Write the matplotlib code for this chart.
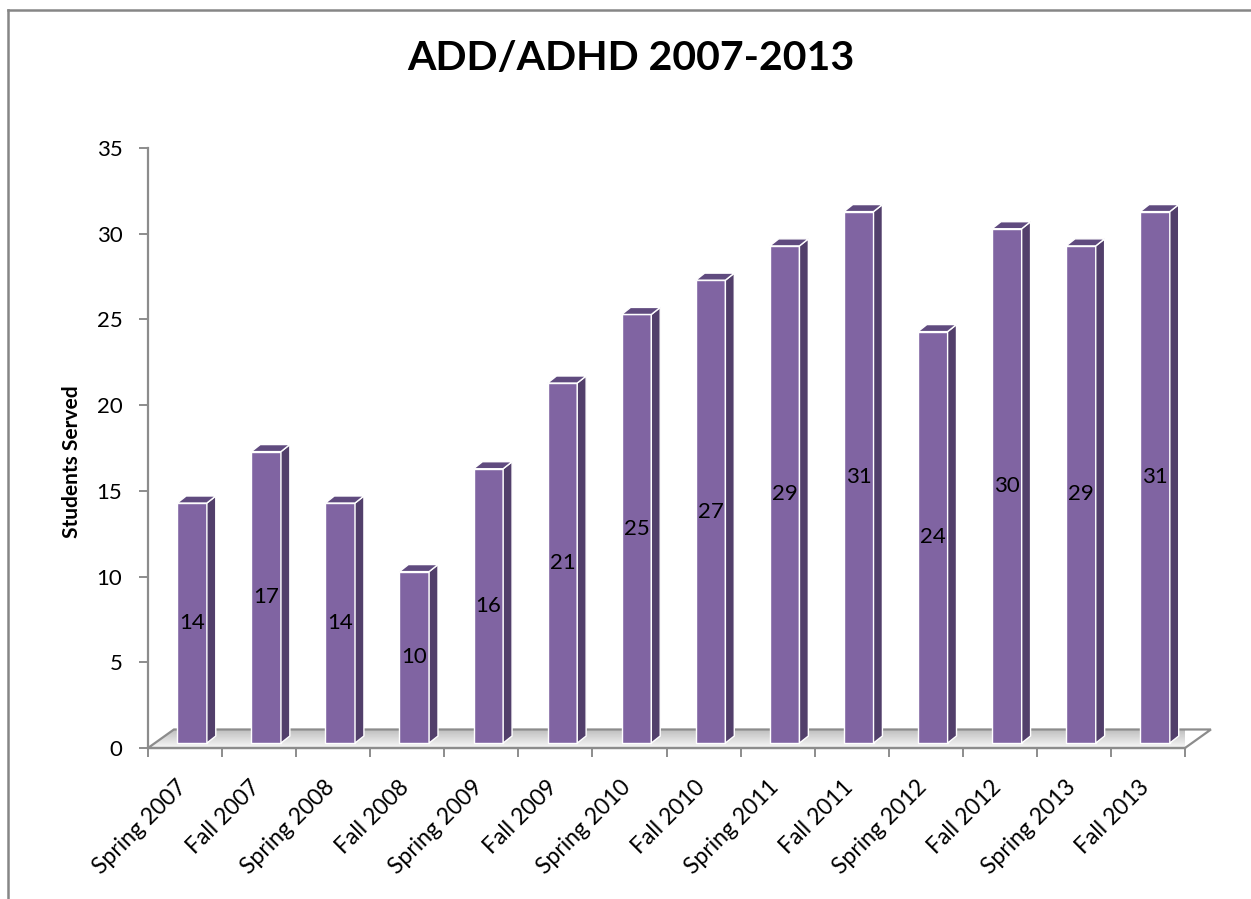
import numpy as np
import matplotlib
matplotlib.use("Agg")
import matplotlib.pyplot as plt
from matplotlib.patches import Polygon
from matplotlib.lines import Line2D

# ---- data ----
categories = ["Spring 2007", "Fall 2007", "Spring 2008", "Fall 2008", "Spring 2009",
              "Fall 2009", "Spring 2010", "Fall 2010", "Spring 2011", "Fall 2011",
              "Spring 2012", "Fall 2012", "Spring 2013", "Fall 2013"]
values = [14, 17, 14, 10, 16, 21, 25, 27, 29, 31, 24, 30, 29, 31]
y_ticks = [0, 5, 10, 15, 20, 25, 30, 35]
title = "ADD/ADHD 2007-2013"
y_label = "Students Served"

plt.rcParams["font.family"] = ["Lato", "DejaVu Sans"]

W, H = 1251, 899
fig = plt.figure(figsize=(W / 100, H / 100), dpi=100)

# axes box in pixels: x 148..1185, y 148..748 (top..bottom)
x0p, x1p, y0p, y1p = 148, 1185, 148, 748
ax = fig.add_axes([x0p / W, 1 - y1p / H, (x1p - x0p) / W, (y1p - y0p) / H])
n = len(values)
ax.set_xlim(0, n)
ax.set_ylim(0, 35)

grey = "#8c8c8c"
front_col = "#8064a2"
side_col = "#523f6b"
top_col = "#604b7f"
fs = 16

# floor (3-D base plate)
fdx, fdy = 0.35, 1.08
floor_pts = [(0, 0), (n, 0), (n + fdx, fdy), (fdx, fdy)]
grad = np.linspace(0.97, 0.74, 64).reshape(-1, 1)
grad = np.repeat(grad, 4, axis=1)
im = ax.imshow(grad, cmap="gray", vmin=0, vmax=1, extent=(0, n + fdx, fdy, 0),
               aspect="auto", origin="upper", zorder=1)
floor_poly = Polygon(floor_pts, closed=True, facecolor="none", edgecolor=grey,
                     lw=1.6, clip_on=False, zorder=2)
ax.add_patch(floor_poly)
im.set_clip_path(floor_poly)
im.set_clip_box(None)
ax.set_xlim(0, n)
ax.set_ylim(0, 35)

# bars drawn as front, side and top faces
off, bw = 0.395, 0.40
base = 0.29
ddx, ddy = 0.12, 0.41
for i, v in enumerate(values):
    xl = i + off
    xr = xl + bw
    top = base + v
    ax.add_patch(Polygon([(xl, base), (xr, base), (xr, top), (xl, top)], closed=True,
                         facecolor=front_col, edgecolor="white", lw=1.0, zorder=3,
                         clip_on=False))
    ax.add_patch(Polygon([(xr, base), (xr + ddx, base + ddy), (xr + ddx, top + ddy), (xr, top)],
                         closed=True, facecolor=side_col, edgecolor="white", lw=1.0,
                         zorder=3, clip_on=False))
    ax.add_patch(Polygon([(xl, top), (xl + ddx, top + ddy), (xr + ddx, top + ddy), (xr, top)],
                         closed=True, facecolor=top_col, edgecolor="white", lw=1.0,
                         zorder=3, clip_on=False))
    ax.text((xl + xr) / 2, base + v / 2, str(v), ha="center", va="center",
            fontsize=fs, color="black", zorder=4)

# axes styling
for s in ("top", "right"):
    ax.spines[s].set_visible(False)
for s in ("left", "bottom"):
    ax.spines[s].set_color(grey)
    ax.spines[s].set_linewidth(1.6)
ax.set_yticks(y_ticks)
ax.set_yticklabels([str(t) for t in y_ticks], fontsize=fs)
ax.tick_params(axis="y", direction="out", length=6.5, width=1.4, color=grey, pad=12)
ax.set_xticks(np.arange(n + 1))
ax.set_xticklabels([])
ax.tick_params(axis="x", direction="out", length=6.5, width=1.4, color=grey)

# rotated category labels
for i, c in enumerate(categories):
    ax.annotate(c, xy=(i + 0.5, 0), xycoords="data", xytext=(-2, -36),
                textcoords="offset pixels", rotation=45, rotation_mode="anchor",
                ha="right", va="center", fontsize=16.5, annotation_clip=False)

fig.text(72 / W, 1 - 462 / H, y_label, rotation=90, ha="center", va="center",
         fontsize=15, fontweight="bold")
fig.text(631 / W, 1 - 58 / H, title, ha="center", va="center",
         fontsize=29.5, fontweight="bold")

# outer chart frame (left and top edges)
fig.add_artist(Line2D([8 / W, 8 / W], [0, 1 - 10 / H], transform=fig.transFigure,
                      color="#868686", lw=1.8))
fig.add_artist(Line2D([8 / W, 1], [1 - 10 / H, 1 - 10 / H], transform=fig.transFigure,
                      color="#868686", lw=1.8))

fig.savefig("out.png", dpi=100)
